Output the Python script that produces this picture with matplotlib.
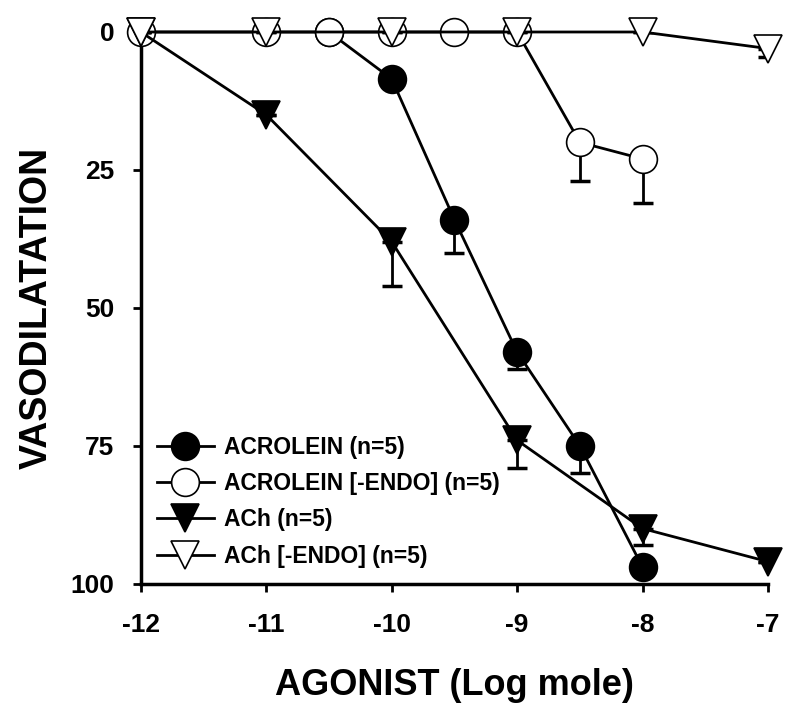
import numpy as np
import matplotlib.pyplot as plt

plt.rcParams['font.family'] = ['Liberation Sans', 'DejaVu Sans']
plt.rcParams['font.weight'] = 'bold'
plt.rcParams['axes.unicode_minus'] = False

# data (y = % vasodilatation, axis inverted)
acr_x = [-10.5, -10, -9.5, -9, -8.5, -8]
acr_y = [0, 8.5, 34, 58, 75, 97]
acr_err = [0, 0, 6, 3, 5, 0]

acr_endo_x = [-12, -11, -10.5, -10, -9.5, -9, -8.5, -8]
acr_endo_y = [0, 0, 0, 0, 0, 0, 20, 23]
acr_endo_err = [0, 0, 0, 0, 0, 0, 7, 8]

ach_x = [-12, -11, -10, -9, -8, -7]
ach_y = [0, 15, 38, 74, 90, 96]
ach_err = [0, 0, 8, 5, 3, 0]

ach_endo_x = [-12, -11, -10, -9, -8, -7]
ach_endo_y = [0, 0, 0, 0, 0, 3]
ach_endo_err = [0, 0, 0, 0, 0, 1.5]

labels = ['ACROLEIN (n=5)', 'ACROLEIN [-ENDO] (n=5)', 'ACh (n=5)', 'ACh [-ENDO] (n=5)']

fig = plt.figure(figsize=(8, 7.11), dpi=100)
ax = fig.add_axes([0.176, 0.179, 0.784, 0.776])

series = [
    (acr_x, acr_y, acr_err, 'o', 'black'),
    (acr_endo_x, acr_endo_y, acr_endo_err, 'o', 'white'),
    (ach_x, ach_y, ach_err, 'v', 'black'),
    (ach_endo_x, ach_endo_y, ach_endo_err, 'v', 'white'),
]

for i, (x, y, e, m, fc) in enumerate(series):
    e = np.array(e)
    ax.errorbar(x, y, yerr=[np.zeros_like(e), e], fmt='none', ecolor='black',
                elinewidth=2, capsize=7, capthick=2.5, zorder=2 + i)
    ax.plot(x, y, color='black', lw=2, marker=m, ms=20, mfc=fc, mec='black',
            mew=1.2, label=labels[i], zorder=3 + i, clip_on=False)

ax.set_xlim(-12, -7)
ax.set_ylim(100, 0)
ax.set_xticks([-12, -11, -10, -9, -8, -7])
ax.set_yticks([0, 25, 50, 75, 100])

for s in ['top', 'right']:
    ax.spines[s].set_visible(False)
ax.spines['left'].set_linewidth(2.5)
ax.spines['bottom'].set_linewidth(2.5)
ax.tick_params(direction='out', width=2, length=6, labelsize=19)
ax.tick_params(axis='x', pad=15)
ax.tick_params(axis='y', pad=13)

ax.set_xlabel('AGONIST (Log mole)', fontsize=26, fontweight='bold')
ax.xaxis.set_label_coords(0.5, -0.152)
ax.set_ylabel('VASODILATATION', fontsize=27, fontweight='bold')
ax.yaxis.set_label_coords(-0.137, 0.50)

ax.legend(loc='lower left', bbox_to_anchor=(0.0, 0.0), frameon=False,
          prop={'size': 16.5, 'weight': 'bold'}, handlelength=2.5,
          labelspacing=0.58, handletextpad=0.45, borderaxespad=0.3)

fig.savefig('out.png', dpi=100)
